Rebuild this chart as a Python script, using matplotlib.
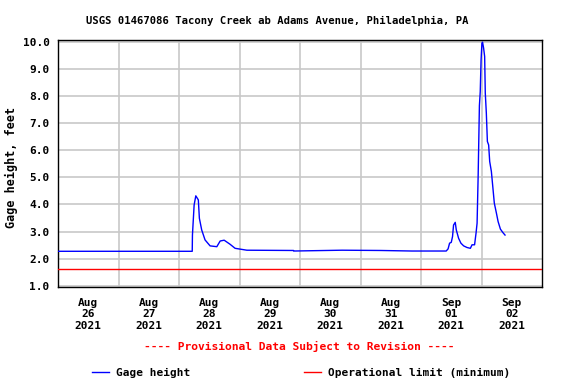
import matplotlib
matplotlib.use("Agg")
import matplotlib.pyplot as plt
from matplotlib.lines import Line2D
import pandas as pd

# ---- data ----
times = [
    "2021-08-26 00:00", "2021-08-28 05:15", "2021-08-28 05:20", "2021-08-28 06:00",
    "2021-08-28 06:40", "2021-08-28 07:40", "2021-08-28 08:05", "2021-08-28 09:00",
    "2021-08-28 10:20", "2021-08-28 12:20", "2021-08-28 15:00", "2021-08-28 16:20",
    "2021-08-28 17:55", "2021-08-28 20:15", "2021-08-28 22:15", "2021-08-29 00:15",
    "2021-08-29 02:55", "2021-08-29 21:25", "2021-08-29 21:30", "2021-08-30 16:40",
    "2021-08-31 08:00", "2021-08-31 20:25", "2021-09-01 10:00", "2021-09-01 10:45",
    "2021-09-01 11:20", "2021-09-01 12:00", "2021-09-01 12:30", "2021-09-01 12:55",
    "2021-09-01 13:35", "2021-09-01 14:00", "2021-09-01 14:55", "2021-09-01 15:50",
    "2021-09-01 16:55", "2021-09-01 18:15", "2021-09-01 19:35", "2021-09-01 20:15",
    "2021-09-01 21:15", "2021-09-01 21:50", "2021-09-01 22:15", "2021-09-01 22:40",
    "2021-09-01 23:10", "2021-09-01 23:30", "2021-09-01 23:50", "2021-09-02 00:10",
    "2021-09-02 00:25", "2021-09-02 00:50", "2021-09-02 01:15", "2021-09-02 01:30",
    "2021-09-02 01:55", "2021-09-02 02:20", "2021-09-02 02:50", "2021-09-02 03:15",
    "2021-09-02 03:55", "2021-09-02 04:25", "2021-09-02 05:05", "2021-09-02 05:55",
    "2021-09-02 06:35", "2021-09-02 07:30", "2021-09-02 08:30", "2021-09-02 09:20",
]
gage_height = [
    2.27, 2.27, 2.87, 3.98,
    4.32, 4.17, 3.49, 3.06,
    2.69, 2.47, 2.44, 2.65,
    2.68, 2.53, 2.38, 2.35,
    2.31, 2.30, 2.28, 2.31,
    2.30, 2.28, 2.28, 2.36,
    2.57, 2.60, 2.81, 3.24,
    3.34, 3.06, 2.75, 2.57,
    2.47, 2.41, 2.38, 2.51,
    2.51, 2.94, 3.31, 5.03,
    7.65, 8.17, 9.35, 9.96,
    10.0, 9.78, 9.47, 8.12,
    7.38, 6.33, 6.20, 5.59,
    5.22, 4.72, 4.05, 3.68,
    3.37, 3.09, 2.96, 2.87,
]
operational_limit = 1.6
y_ticks = [1.0, 2.0, 3.0, 4.0, 5.0, 6.0, 7.0, 8.0, 9.0, 10.0]
label_days = ["2021-08-26", "2021-08-27", "2021-08-28", "2021-08-29",
              "2021-08-30", "2021-08-31", "2021-09-01", "2021-09-02"]
x_start, x_end = "2021-08-26 00:00", "2021-09-03 00:00"

t = pd.to_datetime(times)
FONT = "DejaVu Sans Mono"

fig = plt.figure(figsize=(5.76, 3.84), dpi=100)
ax = fig.add_axes([58 / 576, 1 - 287 / 384, (542 - 58) / 576, (287 - 40) / 384])

ax.plot(t, gage_height, color="#0000ff", lw=1.0, zorder=3)
ax.axhline(operational_limit, color="#ff0000", lw=1.0, zorder=3)

ax.set_xlim(pd.Timestamp(x_start), pd.Timestamp(x_end))
ax.set_ylim(0.95, 10.08)

# y axis
ax.set_yticks(y_ticks)
ax.set_yticklabels([f"{v:.1f}" for v in y_ticks], fontfamily=FONT,
                   fontweight="bold", fontsize=8)
ax.tick_params(axis="y", length=0, pad=6)
ax.grid(axis="y", color="#c8c8c8", lw=1.2, zorder=0)

# x axis: labels at noon, grid at midnight
label_pos = [pd.Timestamp(d) + pd.Timedelta(hours=12) for d in label_days]
ax.set_xticks(label_pos)
ax.set_xticklabels([pd.Timestamp(d).strftime("%b\n%d\n%Y") for d in label_days],
                   fontfamily=FONT, fontweight="bold", fontsize=8, linespacing=1.15)
ax.tick_params(axis="x", which="major", length=0, pad=8)
ax.set_xticks([pd.Timestamp(d) for d in label_days[1:]], minor=True)
ax.tick_params(axis="x", which="minor", length=0)
ax.grid(axis="x", which="minor", color="#c8c8c8", lw=1.2, zorder=0)
ax.grid(axis="x", which="major", visible=False)

for s in ax.spines.values():
    s.set_color("black")
    s.set_linewidth(1.0)

fig.text(11 / 576, 1 - 167.5 / 384, "Gage height, feet", rotation=90,
         ha="center", va="center", fontfamily=FONT, fontweight="bold", fontsize=8.5)

fig.text(277 / 576, 1 - 20.5 / 384,
         "USGS 01467086 Tacony Creek ab Adams Avenue, Philadelphia, PA",
         ha="center", va="center", fontfamily=FONT, fontweight="bold", fontsize=7.6)
fig.text(299 / 576, 1 - 346 / 384, "---- Provisional Data Subject to Revision ----",
         ha="center", va="center", color="#ff0000", fontfamily=FONT,
         fontweight="bold", fontsize=8.1)

handles = [Line2D([], [], color="#0000ff", lw=1.0),
           Line2D([], [], color="#ff0000", lw=1.0)]
fig.legend(handles, ["Gage height", "Operational limit (minimum)"],
           loc="center", bbox_to_anchor=(301 / 576, 1 - 372.7 / 384), ncol=2,
           frameon=False, handlelength=1.5, handletextpad=0.6, columnspacing=10.3,
           prop={"family": FONT, "weight": "bold", "size": 8})

fig.savefig("out.png", dpi=100)
